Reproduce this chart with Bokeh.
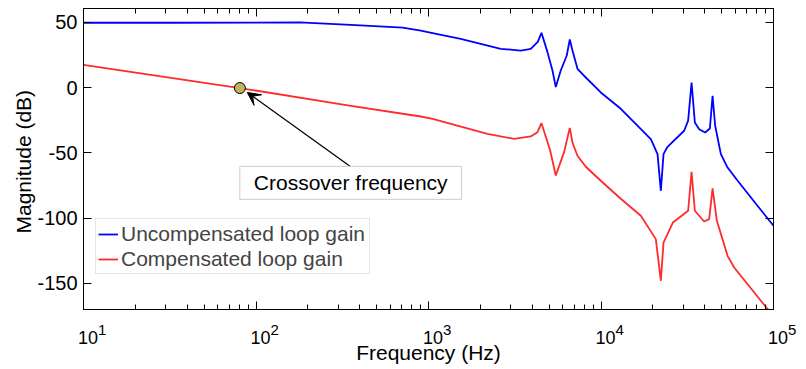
from bokeh.plotting import figure
from bokeh.models import (LogAxis, LinearAxis, Range1d, SingleIntervalTicker, Legend,
                          LegendItem, Arrow, VeeHead, Label, CustomJSTickFormatter, Title,
                          FixedTicker)
from bokeh.embed import file_html
from bokeh.resources import INLINE

# ---- data ----
freq_unc = [10, 32, 179, 354, 709, 901, 1057, 1537, 2623, 3426, 3916, 4300, 4518, 4894,
            5232, 5468, 5844, 6333, 6592, 6834, 7306, 7947, 9972, 13023, 19450, 21270,
            22230, 23040, 24300, 30340, 32000, 33500, 35000, 37070, 40160, 42760, 44340,
            45900, 49540, 54170, 62000, 79050, 100000]
mag_unc = [49.6, 49.6, 49.8, 48.0, 45.9, 43.6, 41.7, 37.3, 29.6, 28.3, 29.6, 35.0, 41.9, 27.1,
           13.0, 0.3, 13.0, 24.5, 36.8, 28.3, 14.3, 9.2, -3.8, -16.3, -39.5, -51.0,
           -79.1, -51.0, -45.4, -33.1, -25.4, 3.8, -26.8, -31.9, -34.5, -31.4, -6.4,
           -29.3, -51.0, -61.3, -71.4, -89.0, -105.9]

freq_comp = [10, 80.65, 348, 901, 1057, 2195, 3133, 3916, 4282, 4518, 5070, 5468, 6110,
             6592, 6834, 7306, 8165, 9972, 13023, 17020, 20790, 22230, 23040, 26100, 32000,
             33500, 35000, 39630, 42370, 44340, 46950, 54170, 59160, 92440, 100000]
mag_comp = [17.4, -0.4, -13.8, -22.2, -24.0, -35.5, -39.3, -37.5, -34.2, -27.3, -48.0, -67.4,
            -49.5, -30.9, -42.1, -52.3, -60.7, -71.4, -85.2, -98.2, -116.1, -148.0, -118.7,
            -103.4, -94.4, -64.5, -94.4, -102.6, -100.8, -77.3, -102.1, -128.9, -137.8,
            -169.7, -175.5]

crossover_freq = [80.65]
crossover_mag = [-0.4]

x_ticks = [10, 100, 1000, 10000, 100000]   # labelled 10^1 ... 10^5
x_tick_base = "10"

series_labels = ["Uncompensated loop gain", "Compensated loop gain"]
x_title = "Frequency (Hz)"
y_title = "Magnitude (dB)"
annotation_text = "Crossover frequency"
annot_text_pos = (354, -73)
arrow_start = (354, -60.7)
arrow_end = (89, -3.8)

x_lim = (10, 1e5)
y_lim = (-170, 60.5)
y_tick_step = 50

FONT = "Liberation Sans"

p = figure(width=806, height=368, x_axis_type="log",
           x_range=Range1d(*x_lim), y_range=Range1d(*y_lim),
           output_backend="svg", toolbar_location=None,
           min_border_left=83, min_border_right=33, min_border_top=8, min_border_bottom=59)
p.grid.visible = False
p.outline_line_color = "black"
p.background_fill_color = "white"
p.border_fill_color = "white"

ticker_y = SingleIntervalTicker(interval=y_tick_step, num_minor_ticks=0)
yax = p.yaxis[0]
yax.ticker = ticker_y
yax.formatter = CustomJSTickFormatter(code="return tick.toString()")
xax = p.xaxis[0]

for ax in (xax, yax):
    ax.axis_line_color = "black"
    ax.major_tick_line_color = "black"
    ax.minor_tick_line_color = "black"
    ax.major_tick_in = 8
    ax.major_tick_out = 0
    ax.minor_tick_in = 5
    ax.minor_tick_out = 0

yax.minor_tick_line_color = None
yax.major_label_text_font = FONT
yax.major_label_text_color = "black"
yax.major_label_text_font_size = "20px"
yax.major_label_standoff = 6

# main x axis: ticks only
xax.formatter = CustomJSTickFormatter(code="return ''")
xax.major_label_text_font_size = "0px"
xax.major_label_standoff = 0

# exponent row (leading spaces put the label to the right of its tick)
exp_axis = LogAxis(ticker=FixedTicker(ticks=x_ticks, minor_ticks=[]),
                   formatter=CustomJSTickFormatter(
                       code="return '\\u2003\\u2003\\u2002' + Math.round(Math.log10(tick)).toString()"),
                   axis_line_color=None, major_tick_line_color=None,
                   minor_tick_line_color=None, major_tick_in=0, major_tick_out=0,
                   major_label_text_font=FONT, major_label_text_font_size="15px",
                   major_label_text_color="black", major_label_standoff=11)
# base row "10"
base_axis = LogAxis(ticker=FixedTicker(ticks=x_ticks, minor_ticks=[]),
                    formatter=CustomJSTickFormatter(code="return '\\u2002%s'" % x_tick_base),
                    axis_line_color=None, major_tick_line_color=None,
                    minor_tick_line_color=None, major_tick_in=0, major_tick_out=0,
                    major_label_text_font=FONT, major_label_text_font_size="18px",
                    major_label_text_color="black", major_label_standoff=-13,
                    axis_label=x_title, axis_label_text_font=FONT,
                    axis_label_text_font_size="21px", axis_label_text_font_style="normal",
                    axis_label_text_color="black", axis_label_standoff=-10)
p.add_layout(exp_axis, "below")
p.add_layout(base_axis, "below")

# y title shifted like the reference
p.add_layout(Title(text=y_title, align="left", offset=76, text_font=FONT,
                   text_font_size="21px", text_font_style="normal", text_color="black",
                   standoff=0), "left")

# mirrored axes (ticks only)
top = LogAxis(ticker=xax.ticker, formatter=CustomJSTickFormatter(code="return ''"),
              major_tick_in=8, major_tick_out=0, minor_tick_in=5, minor_tick_out=0,
              minor_tick_line_color="black",
              major_label_text_font_size="0px", major_label_standoff=0)
right = LinearAxis(ticker=ticker_y, formatter=CustomJSTickFormatter(code="return ''"),
                   major_tick_in=8, major_tick_out=0, minor_tick_line_color=None,
                   major_label_text_font_size="0px", major_label_standoff=0)
p.add_layout(top, "above")
p.add_layout(right, "right")

r1 = p.line(freq_unc, mag_unc, line_color="#0000ff", line_width=1.8)
r2 = p.line(freq_comp, mag_comp, line_color="#ff2a2a", line_width=1.8)

p.scatter(crossover_freq, crossover_mag, size=11, fill_color="#bfb35c", line_color="black",
          line_width=1)

p.add_layout(Arrow(end=VeeHead(size=13, fill_color="black", line_color="black"),
                   x_start=arrow_start[0], y_start=arrow_start[1],
                   x_end=arrow_end[0], y_end=arrow_end[1],
                   line_color="black", line_width=1.3))

p.add_layout(Label(x=annot_text_pos[0], y=annot_text_pos[1], text=annotation_text,
                   text_align="center", text_baseline="middle", text_font=FONT,
                   text_font_size="21px", text_color="black",
                   background_fill_color="white", border_line_color="#cccccc",
                   padding=dict(left=14, right=14, top=5, bottom=5)))

legend = Legend(items=[LegendItem(label=series_labels[0], renderers=[r1]),
                       LegendItem(label=series_labels[1], renderers=[r2])],
                location=(12, 35), label_text_font=FONT, label_text_font_size="21px",
                glyph_width=20, glyph_height=20, label_standoff=3, padding=2, spacing=0,
                margin=0, label_height=25, label_width=246,
                border_line_color="#cccccc", background_fill_color="white",
                background_fill_alpha=1)
p.add_layout(legend)

open("out.html", "w").write(file_html(p, INLINE))
